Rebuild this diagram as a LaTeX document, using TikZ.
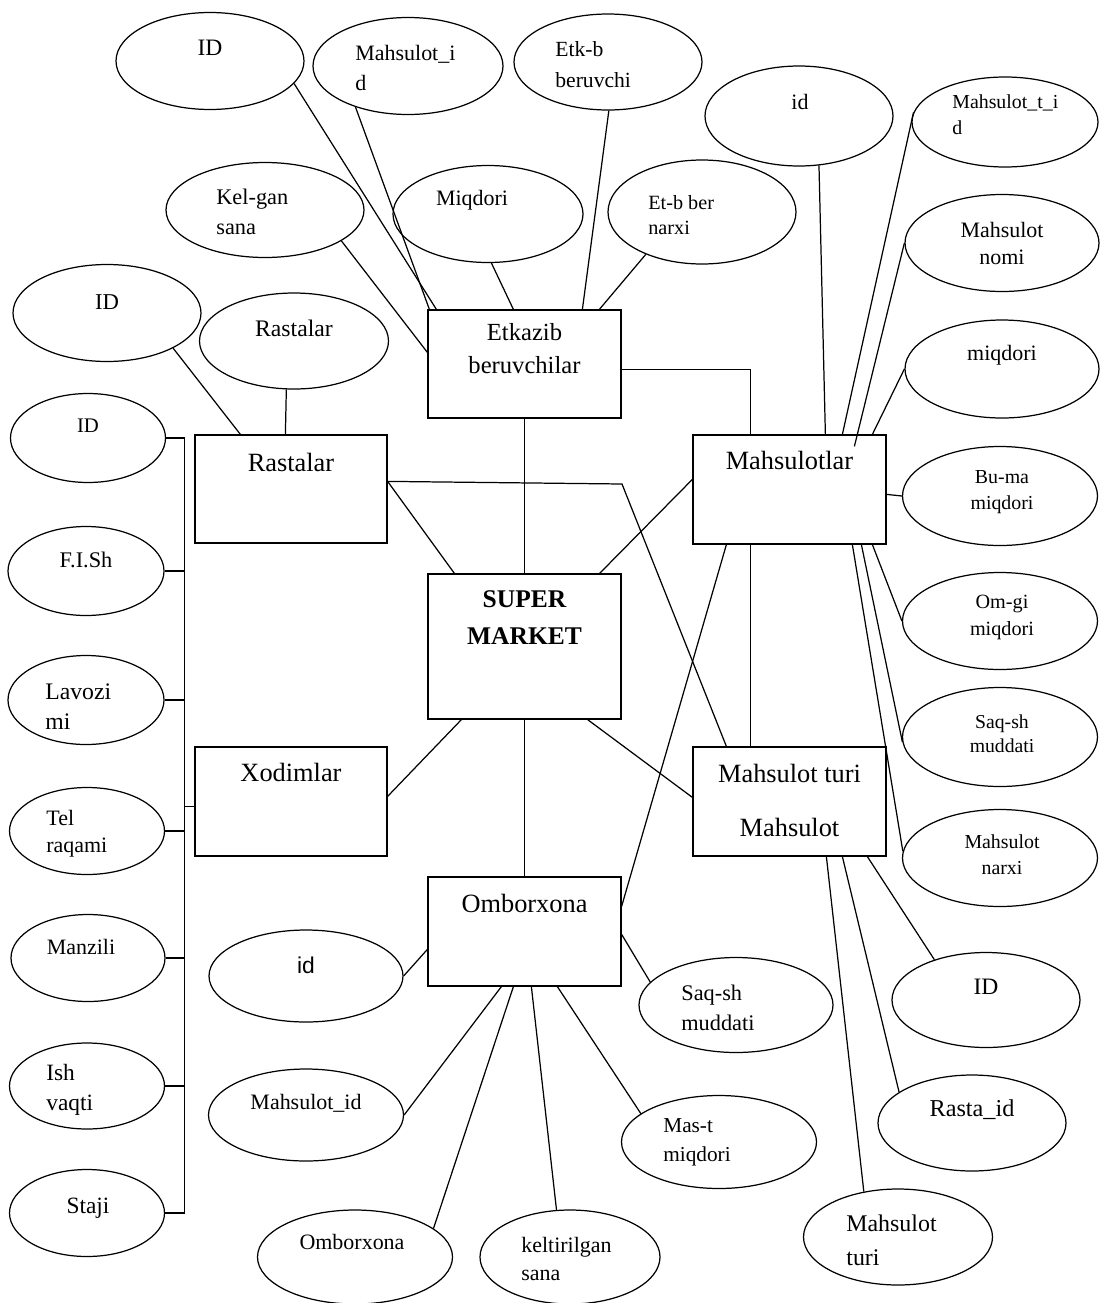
\documentclass[tikz,border=0pt]{standalone}
\usepackage{fontspec}
\setmainfont{Liberation Serif}
\newfontfamily\sansfont{Liberation Sans}
\usetikzlibrary{shapes.geometric}
\pgfdeclarelayer{bg}
\pgfsetlayers{bg,main}
\newcommand{\attrfont}[2]{\fontsize{#1}{#2}\selectfont}
\tikzset{
    entity/.style={rectangle, draw, line width=0.7pt, inner sep=0mm},
    attr/.style={ellipse, draw, line width=0.7pt, inner sep=0mm},
    etxt/.style={draw=none, inner sep=0mm, align=center, font=\attrfont{15}{19}},
    atxt/.style={draw=none, inner sep=0mm, align=left, font=\attrfont{12.5}{17}},
    link/.style={line width=0.7pt}
}
\begin{document}
\begin{tikzpicture}
        \useasboundingbox (0cm, 0cm) rectangle (22cm, -26.06cm);
        % entities
        \node[entity, minimum width=3.86cm, minimum height=2.16cm] (etk) at (10.49cm, -7.28cm) {};
        \node[entity, minimum width=3.84cm, minimum height=2.16cm] (ras) at (5.82cm, -9.78cm) {};
        \node[entity, minimum width=3.86cm, minimum height=2.18cm] (mah) at (15.79cm, -9.79cm) {};
        \node[entity, minimum width=3.86cm, minimum height=2.90cm] (sup) at (10.49cm, -12.93cm) {};
        \node[entity, minimum width=3.84cm, minimum height=2.18cm] (xod) at (5.82cm, -16.03cm) {};
        \node[entity, minimum width=3.86cm, minimum height=2.18cm] (mtr) at (15.79cm, -16.03cm) {};
        \node[entity, minimum width=3.86cm, minimum height=2.18cm] (omb) at (10.49cm, -18.63cm) {};
        \node[etxt, font=\attrfont{14}{18.7}] (etk-t) at (10.49cm, -6.98cm) {Etkazib\\beruvchilar};
        \node[etxt] (ras-t) at (5.82cm, -9.24cm) {Rastalar};
        \node[etxt] (mah-t) at (15.79cm, -9.20cm) {Mahsulotlar};
        \node[etxt, font=\bfseries\attrfont{14.5}{21}] (sup-t) at (10.49cm, -12.35cm) {SUPER\\MARKET};
        \node[etxt] (xod-t) at (5.82cm, -15.44cm) {Xodimlar};
        \node[etxt, font=\attrfont{15}{31}] (mtr-t) at (15.79cm, -16.01cm) {Mahsulot turi\\Mahsulot};
        \node[etxt] (omb-t) at (10.49cm, -18.06cm) {Omborxona};
        % attributes, top
        \node[attr, minimum width=3.76cm, minimum height=1.94cm] (eIDt) at (4.20cm, -1.22cm) {};
        \node[attr, minimum width=3.80cm, minimum height=1.94cm] (eMid) at (8.16cm, -1.32cm) {};
        \node[attr, minimum width=3.76cm, minimum height=1.92cm] (eEtk) at (12.16cm, -1.24cm) {};
        \node[attr, minimum width=3.76cm, minimum height=2.00cm] (eIdr) at (15.98cm, -2.32cm) {};
        \node[attr, minimum width=3.72cm, minimum height=1.80cm] (eMti) at (20.10cm, -2.44cm) {};
        \node[attr, minimum width=3.96cm, minimum height=1.90cm] (eKel) at (5.30cm, -4.20cm) {};
        \node[attr, minimum width=3.80cm, minimum height=1.94cm] (eMiq) at (9.76cm, -4.28cm) {};
        \node[attr, minimum width=3.76cm, minimum height=2.08cm] (eEtn) at (14.04cm, -4.24cm) {};
        \node[attr, minimum width=3.76cm, minimum height=1.94cm] (eIDl) at (2.14cm, -6.26cm) {};
        \node[attr, minimum width=3.78cm, minimum height=1.92cm] (eRas) at (5.88cm, -6.82cm) {};
        \node[atxt] (eIDt-t) at (4.20cm, -0.96cm) {\attrfont{13.4}{17}ID};
        \node[atxt, anchor=west] (eMid-t) at (7.10cm, -1.36cm) {Mahsulot\_i\\d};
        \node[atxt, anchor=west, font=\attrfont{12.3}{17.5}] (eEtk-t) at (11.10cm, -1.29cm) {Etk-b\\beruvchi};
        \node[atxt] (eIdr-t) at (16.00cm, -2.04cm) {id};
        \node[atxt, anchor=west, font=\attrfont{11.3}{14.7}] (eMti-t) at (19.04cm, -2.30cm) {Mahsulot\_t\_i\\d};
        \node[atxt, anchor=west, font=\attrfont{12.7}{17}] (eKel-t) at (4.32cm, -4.24cm) {Kel-gan\\sana};
        \node[atxt] (eMiq-t) at (9.44cm, -4.00cm) {Miqdori};
        \node[atxt, anchor=west, font=\attrfont{11.5}{14.7}] (eEtn-t) at (12.96cm, -4.30cm) {Et-b ber\\narxi};
        \node[atxt, font=\attrfont{12.9}{17}] (eIDl-t) at (2.14cm, -6.04cm) {ID};
        \node[atxt, font=\attrfont{13.5}{17}] (eRas-t) at (5.88cm, -6.56cm) {Rastalar};
        % attributes, right column
        \node[attr, minimum width=3.88cm, minimum height=1.94cm] (eMno) at (20.04cm, -4.86cm) {};
        \node[attr, minimum width=3.88cm, minimum height=1.96cm] (eMiq2) at (20.04cm, -7.38cm) {};
        \node[attr, minimum width=3.90cm, minimum height=1.98cm] (eBum) at (20.00cm, -9.92cm) {};
        \node[attr, minimum width=3.90cm, minimum height=1.94cm] (eOmg) at (20.00cm, -12.42cm) {};
        \node[attr, minimum width=3.90cm, minimum height=1.98cm] (eSaq) at (20.00cm, -14.74cm) {};
        \node[attr, minimum width=3.90cm, minimum height=1.94cm] (eMna) at (20.00cm, -17.16cm) {};
        \node[atxt, align=center, font=\attrfont{12.5}{15.3}] (eMno-t) at (20.04cm, -4.87cm) {Mahsulot\\nomi};
        \node[atxt] (eMiq2-t) at (20.04cm, -7.10cm) {miqdori};
        \node[atxt, align=center, font=\attrfont{11.3}{14.7}] (eBum-t) at (20.04cm, -9.84cm) {Bu-ma\\miqdori};
        \node[atxt, align=center, font=\attrfont{11.5}{15.2}] (eOmg-t) at (20.04cm, -12.35cm) {Om-gi\\miqdori};
        \node[atxt, align=center, font=\attrfont{11.2}{13.6}] (eSaq-t) at (20.04cm, -14.68cm) {Saq-sh\\muddati};
        \node[atxt, align=center, font=\attrfont{11.3}{14.7}] (eMna-t) at (20.04cm, -17.10cm) {Mahsulot\\narxi};
        % attributes of Xodimlar
        \node[attr, minimum width=3.10cm, minimum height=1.78cm] (xID) at (1.76cm, -8.76cm) {};
        \node[attr, minimum width=3.12cm, minimum height=1.78cm] (xFis) at (1.72cm, -11.42cm) {};
        \node[attr, minimum width=3.12cm, minimum height=1.78cm] (xLav) at (1.72cm, -14.00cm) {};
        \node[attr, minimum width=3.10cm, minimum height=1.74cm] (xTel) at (1.74cm, -16.62cm) {};
        \node[attr, minimum width=3.08cm, minimum height=1.74cm] (xMan) at (1.76cm, -19.16cm) {};
        \node[attr, minimum width=3.10cm, minimum height=1.72cm] (xIsh) at (1.74cm, -21.72cm) {};
        \node[attr, minimum width=3.10cm, minimum height=1.74cm] (xSta) at (1.74cm, -24.26cm) {};
        \node[atxt, font=\attrfont{11.8}{17}] (xID-t) at (1.76cm, -8.52cm) {ID};
        \node[atxt, font=\attrfont{12.7}{17}] (xFis-t) at (1.72cm, -11.20cm) {F.I.Sh};
        \node[atxt, anchor=west, font=\attrfont{13.5}{17}] (xLav-t) at (0.90cm, -14.14cm) {Lavozi\\mi};
        \node[atxt, anchor=west, font=\attrfont{12.5}{15.3}] (xTel-t) at (0.92cm, -16.67cm) {Tel\\raqami};
        \node[atxt] (xMan-t) at (1.62cm, -18.94cm) {Manzili};
        \node[atxt, anchor=west, font=\attrfont{13.3}{17}] (xIsh-t) at (0.92cm, -21.80cm) {Ish\\vaqti};
        \node[atxt, font=\attrfont{13.3}{17}] (xSta-t) at (1.76cm, -24.16cm) {Staji};
        % attributes, bottom
        \node[attr, minimum width=3.88cm, minimum height=1.84cm] (oId) at (6.12cm, -19.52cm) {};
        \node[attr, minimum width=3.90cm, minimum height=1.84cm] (oMid) at (6.12cm, -22.30cm) {};
        \node[attr, minimum width=3.90cm, minimum height=1.88cm] (oOmb) at (7.10cm, -25.14cm) {};
        \node[attr, minimum width=3.60cm, minimum height=1.88cm] (oKel) at (11.40cm, -25.14cm) {};
        \node[attr, minimum width=3.90cm, minimum height=1.86cm] (oMas) at (14.38cm, -22.84cm) {};
        \node[attr, minimum width=3.88cm, minimum height=1.90cm] (oSaq) at (14.72cm, -20.10cm) {};
        \node[attr, minimum width=3.76cm, minimum height=1.90cm] (mID) at (19.72cm, -20.00cm) {};
        \node[attr, minimum width=3.76cm, minimum height=1.92cm] (mRas) at (19.44cm, -22.46cm) {};
        \node[attr, minimum width=3.78cm, minimum height=1.92cm] (mTur) at (17.96cm, -24.74cm) {};
        \node[atxt, font=\sansfont\attrfont{13}{17}] (oId-t) at (6.12cm, -19.30cm) {id};
        \node[atxt] (oMid-t) at (6.12cm, -22.06cm) {Mahsulot\_id};
        \node[atxt] (oOmb-t) at (7.04cm, -24.84cm) {Omborxona};
        \node[atxt, anchor=west, font=\attrfont{12.5}{15.8}] (oKel-t) at (10.42cm, -25.18cm) {keltirilgan\\sana};
        \node[atxt, anchor=west, font=\attrfont{12.1}{16.4}] (oMas-t) at (13.26cm, -22.85cm) {Mas-t\\miqdori};
        \node[atxt, anchor=west, font=\attrfont{12.7}{17}] (oSaq-t) at (13.62cm, -20.16cm) {Saq-sh\\muddati};
        \node[atxt, font=\attrfont{13.4}{17}] (mID-t) at (19.72cm, -19.74cm) {ID};
        \node[atxt, font=\attrfont{13.8}{17}] (mRas-t) at (19.44cm, -22.20cm) {Rasta\_id};
        \node[atxt, anchor=west, font=\attrfont{13.6}{19.3}] (mTur-t) at (16.92cm, -24.80cm) {Mahsulot\\turi};
        \coordinate (rbend) at (12.44cm, -9.68cm);
        \coordinate (xodstub) at ([yshift=-1.20cm]xod.north west);
        \begin{pgfonlayer}{bg}
                % Etkazib beruvchilar
                \draw (eIDt.-15) edge [link] ([xshift=0.18cm]etk.north west);
                \draw (eMid.-142) edge [link] ([xshift=0.04cm]etk.north west);
                \draw (eKel.-22) edge [link] ([yshift=-0.86cm]etk.north west);
                \draw (eMiq.-86) edge [link] ([xshift=1.72cm]etk.north west);
                \draw (eEtk.-89) edge [link] ([xshift=3.10cm]etk.north west);
                \draw (eEtn.-143) edge [link] ([xshift=3.44cm]etk.north west);
                \draw [link] ([yshift=-1.20cm]etk.north east) -| ([xshift=1.16cm]mah.north west);
                \draw (etk.south) edge [link] (sup.north);
                % Rastalar
                \draw (eIDl.-28) edge [link] ([xshift=0.92cm]ras.north west);
                \draw (eRas.-99) edge [link] ([xshift=1.82cm]ras.north west);
                \draw [link] ([yshift=-0.94cm]ras.north east) -- (rbend) -- ([xshift=0.68cm]mtr.north west);
                \draw ([yshift=-0.94cm]ras.north east) edge [link] ([xshift=0.54cm]sup.north west);
                % Mahsulotlar
                \draw (eIdr.-68) edge [link] ([xshift=2.66cm]mah.north west);
                \draw (eMti.174) edge [link] ([xshift=3.00cm]mah.north west);
                \draw (eMno.west) edge [link] ([xshift=3.24cm, yshift=-0.24cm]mah.north west);
                \draw (eMiq2.west) edge [link] ([xshift=3.60cm]mah.north west);
                \draw ([yshift=-1.20cm]mah.north east) edge [link] (eBum.west);
                \draw ([xshift=3.60cm]mah.south west) edge [link] (eOmg.west);
                \draw ([xshift=3.38cm]mah.south west) edge [link] (eSaq.183);
                \draw ([xshift=3.20cm]mah.south west) edge [link] (eMna.176);
                \draw ([xshift=0.68cm]mah.south west) edge [link] ([yshift=-0.60cm]omb.north east);
                \draw ([xshift=1.16cm]mah.south west) edge [link] ([xshift=1.16cm]mtr.north west);
                \draw ([yshift=-0.90cm]mah.north west) edge [link] ([xshift=-0.44cm]sup.north east);
                % SUPER MARKET
                \draw ([xshift=0.68cm]sup.south west) edge [link] ([yshift=-1.00cm]xod.north east);
                \draw (sup.south) edge [link] (omb.north);
                \draw ([xshift=-0.68cm]sup.south east) edge [link] ([yshift=-1.02cm]mtr.north west);
                % Xodimlar
                \draw [link] (xID.east) -- ++(0.36cm, 0cm) coordinate (bustop) -- (bustop |- xSta.east) -- (xSta.east);
                \draw (xFis.east) edge [link] (xFis.east -| bustop);
                \draw (xLav.east) edge [link] (xLav.east -| bustop);
                \draw (xTel.east) edge [link] (xTel.east -| bustop);
                \draw (xMan.east) edge [link] (xMan.east -| bustop);
                \draw (xIsh.east) edge [link] (xIsh.east -| bustop);
                \draw (xodstub) edge [link] (xodstub -| bustop);
                % Omborxona
                \draw (oId.east) edge [link] ([yshift=-1.46cm]omb.north west);
                \draw (oMid.east) edge [link] ([xshift=1.48cm]omb.south west);
                \draw (oOmb.20) edge [link] ([xshift=1.72cm]omb.south west);
                \draw (oKel.106) edge [link] ([xshift=2.08cm]omb.south west);
                \draw (oMas.160) edge [link] ([xshift=2.60cm]omb.south west);
                \draw (oSaq.165) edge [link] ([yshift=-1.16cm]omb.north east);
                % Mahsulot turi
                \draw (mID.142) edge [link] ([xshift=3.50cm]mtr.south west);
                \draw (mRas.157) edge [link] ([xshift=3.00cm]mtr.south west);
                \draw (mTur.127) edge [link] ([xshift=2.68cm]mtr.south west);
        \end{pgfonlayer}
\end{tikzpicture}
\end{document}
